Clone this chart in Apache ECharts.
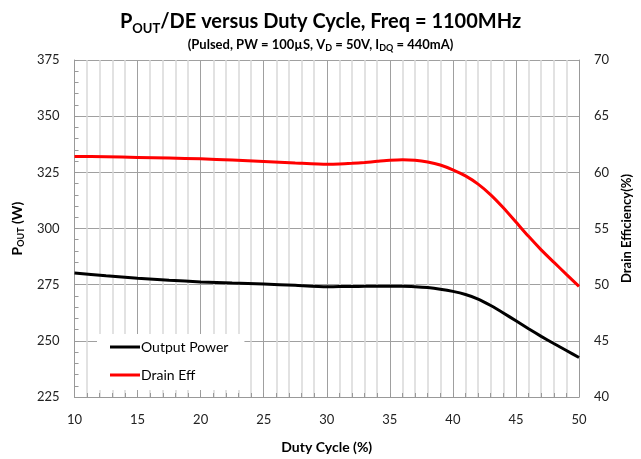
<!DOCTYPE html>
<html><head><meta charset="utf-8">
<script src="https://cdn.jsdelivr.net/npm/echarts@6/dist/echarts.min.js"></script>
<style>html,body{margin:0;padding:0;background:#fff;overflow:hidden}#c{width:641px;height:459px}</style>
</head><body><div id="c"></div>
<script>
const dutyCycle = [10, 12.5, 15, 17.5, 20, 22.5, 25, 27.5, 30, 31, 32, 33, 34, 35, 36, 37, 38, 39, 40, 41, 42, 43, 44, 45, 46, 47, 48, 49, 50];
const outputPower = [280.2, 279.0, 277.9, 277.0, 276.2, 275.7, 275.3, 274.7, 274.1, 274.15, 274.2, 274.25, 274.3, 274.3, 274.3, 274.1, 273.7, 273.0, 272.0, 270.6, 268.6, 265.7, 262.4, 258.9, 255.4, 252.0, 248.8, 245.7, 242.6];
const drainEff = [61.42, 61.38, 61.33, 61.27, 61.2, 61.09, 60.97, 60.84, 60.72, 60.74, 60.8, 60.88, 60.98, 61.08, 61.13, 61.08, 60.92, 60.65, 60.22, 59.68, 58.95, 58.0, 56.85, 55.58, 54.3, 53.1, 52.0, 50.92, 49.85];
const xTicks = [10, 50, 5];
const leftTicks = [225, 375, 25];
const rightTicks = [40, 70, 5];

const FONT = 'Lato';
const chart = echarts.init(document.getElementById('c'), null, {renderer: 'canvas', width: 641, height: 459});
const pair = a => a.map((v, i) => [dutyCycle[i], v]);
chart.setOption({
  animation: false,
  backgroundColor: '#fff',
  textStyle: {fontFamily: FONT},
  title: [{
    text: 'P{s|OUT}/DE versus Duty Cycle, Freq = 1100MHz',
    left: 'center', top: 4,
    textStyle: {fontSize: 20, fontWeight: 'bold', color: '#000', lineHeight: 26, fontFamily: FONT,
      rich: {s: {fontSize: 13, fontWeight: 'bold', lineHeight: 13, verticalAlign: 'bottom', fontFamily: FONT, color: '#000'}}}
  }, {
    text: '(Pulsed, PW = 100µS, V{s|D} = 50V, I{s|DQ} = 440mA)',
    left: 'center', top: 31,
    textStyle: {fontSize: 13, fontWeight: 'bold', color: '#000', lineHeight: 17, fontFamily: FONT,
      rich: {s: {fontSize: 9, fontWeight: 'bold', lineHeight: 9, verticalAlign: 'bottom', fontFamily: FONT, color: '#000'}}}
  }],
  grid: {left: 73, width: 514, top: 60, height: 340, containLabel: false},
  legend: {
    orient: 'vertical', left: 97, top: 334,
    backgroundColor: '#fff',
    padding: [6, 16, 8, 13],
    itemGap: 14, itemWidth: 30, itemHeight: 3, icon: 'rect',
    textStyle: {fontSize: 14, color: '#000', fontFamily: FONT, padding: [0, 0, 0, -4]},
    data: ['Output Power', 'Drain Eff']
  },
  xAxis: {
    type: 'value', min: xTicks[0], max: xTicks[1], interval: xTicks[2],
    name: 'Duty Cycle (%)', nameLocation: 'middle', nameGap: 43,
    nameTextStyle: {fontSize: 14, fontWeight: 'bold', color: '#000', fontFamily: FONT},
    axisLine: {show: true, lineStyle: {color: '#999', width: 1}},
    axisTick: {show: true, inside: true, length: 4, lineStyle: {color: '#999'}},
    minorTick: {show: true, splitNumber: 5, length: 4, lineStyle: {color: '#999'}},
    axisLabel: {fontSize: 13, color: '#222', margin: 16, fontFamily: FONT},
    splitLine: {show: true, lineStyle: {color: '#a0a0a0', width: 1}},
    minorSplitLine: {show: true, lineStyle: {color: '#d9d9d9', width: 1.5}}
  },
  yAxis: [{
    type: 'value', min: leftTicks[0], max: leftTicks[1], interval: leftTicks[2],
    name: 'P{s|OUT} (W)', nameLocation: 'middle', nameGap: 47, nameRotate: 90,
    nameTextStyle: {fontSize: 14, fontWeight: 'bold', color: '#000', fontFamily: FONT, lineHeight: 18,
      rich: {s: {fontSize: 9, fontWeight: 'bold', lineHeight: 9, verticalAlign: 'bottom', color: '#000', fontFamily: FONT}}},
    axisLine: {show: true, lineStyle: {color: '#999'}},
    axisTick: {show: true, inside: true, length: 4, lineStyle: {color: '#999'}},
    minorTick: {show: true, splitNumber: 5, length: 4, lineStyle: {color: '#999'}},
    axisLabel: {fontSize: 13, color: '#222', margin: 15, fontFamily: FONT},
    splitLine: {show: true, lineStyle: {color: '#a0a0a0', width: 1}}
  }, {
    type: 'value', min: rightTicks[0], max: rightTicks[1], interval: rightTicks[2], position: 'right',
    name: 'Drain Efficiency(%)', nameLocation: 'middle', nameGap: 41, nameRotate: 90,
    nameTextStyle: {fontSize: 13, fontWeight: 'bold', color: '#000', fontFamily: FONT},
    axisLine: {show: true, lineStyle: {color: '#999'}},
    axisTick: {show: false},
    axisLabel: {fontSize: 13, color: '#222', margin: 15, fontFamily: FONT},
    splitLine: {show: false}
  }],
  series: [{
    name: 'Output Power', type: 'line', yAxisIndex: 0, smooth: 0.2, showSymbol: false,
    symbol: 'none', color: '#000', lineStyle: {color: '#000', width: 3}, data: pair(outputPower), z: 3
  }, {
    name: 'Drain Eff', type: 'line', yAxisIndex: 1, smooth: 0.2, showSymbol: false,
    symbol: 'none', color: '#ff0000', lineStyle: {color: '#ff0000', width: 3}, data: pair(drainEff), z: 3
  }]
});
</script></body></html>
